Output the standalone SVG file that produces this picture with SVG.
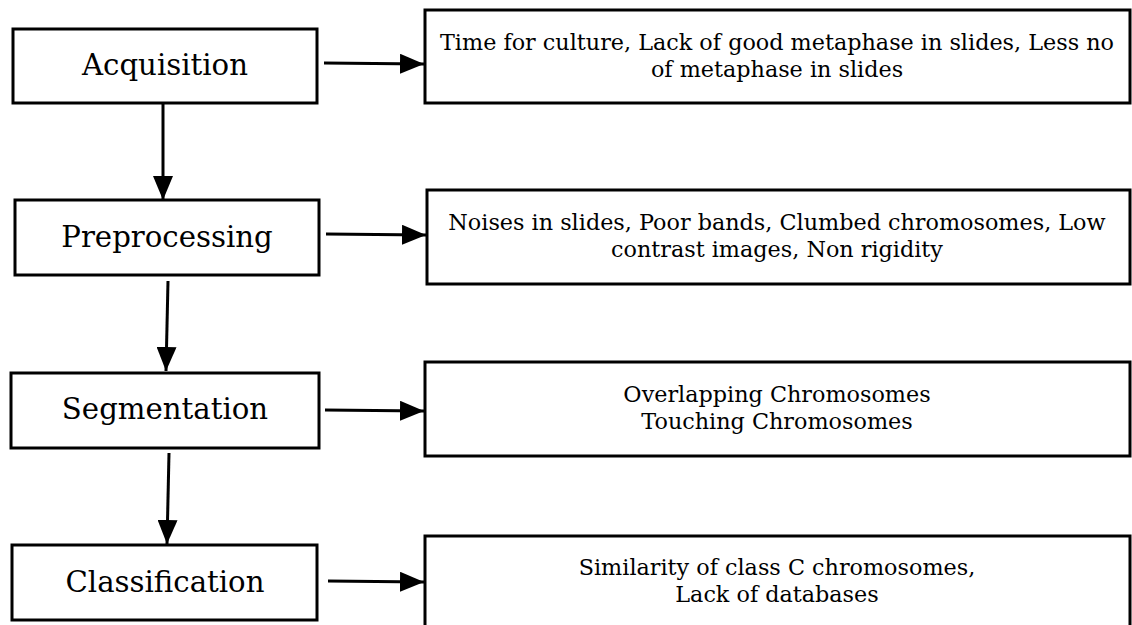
<svg xmlns="http://www.w3.org/2000/svg" width="1132" height="625" viewBox="0 0 1132 625">
<defs>
<marker id="ah" markerUnits="userSpaceOnUse" markerWidth="24" markerHeight="20" refX="24" refY="10" orient="auto">
<polygon points="0,0 24,10 0,20" fill="#000"/>
</marker>
<style>
.box{fill:#fff;stroke:#000;stroke-width:3}
.lt{font-family:"DejaVu Serif",serif;font-size:29.2px;text-anchor:middle;fill:#000}
.rt{font-family:"DejaVu Serif",serif;font-size:22.3px;text-anchor:middle;fill:#000}
.c{stroke:#000;stroke-width:3;fill:none;marker-end:url(#ah)}
</style>
</defs>
<rect width="1132" height="625" fill="#fff"/>
<g id="acquisition"><rect class="box" x="13" y="29" width="304" height="74"/><text class="lt" x="165" y="75">Acquisition</text></g>
<g id="preprocessing"><rect class="box" x="15" y="200" width="304" height="75"/><text class="lt" x="167" y="247">Preprocessing</text></g>
<g id="segmentation"><rect class="box" x="11" y="373" width="308" height="75"/><text class="lt" x="165" y="419">Segmentation</text></g>
<g id="classification"><rect class="box" x="12" y="545" width="305" height="75"/><text class="lt" x="165" y="592">Classification</text></g>
<g id="issues1"><rect class="box" x="425" y="10" width="705" height="93"/><text class="rt" x="777" y="50">Time for culture, Lack of good metaphase in slides, Less no</text><text class="rt" x="777" y="77">of metaphase in slides</text></g>
<g id="issues2"><rect class="box" x="427" y="190" width="703" height="94"/><text class="rt" x="777" y="230">Noises in slides, Poor bands, Clumbed chromosomes, Low</text><text class="rt" x="777" y="257">contrast images, Non rigidity</text></g>
<g id="issues3"><rect class="box" x="425" y="362" width="705" height="94"/><text class="rt" x="777" y="402">Overlapping Chromosomes</text><text class="rt" x="777" y="429">Touching Chromosomes</text></g>
<g id="issues4"><rect class="box" x="425" y="536" width="705" height="100"/><text class="rt" x="777" y="575">Similarity of class C chromosomes,</text><text class="rt" x="777" y="602">Lack of databases</text></g>
<g id="connectors">
<path class="c" d="M324,63 L424,64"/>
<path class="c" d="M326,234 L426,235"/>
<path class="c" d="M325,410 L424,411"/>
<path class="c" d="M328,581 L424,582"/>
<path class="c" d="M163,103 L163,200"/>
<path class="c" d="M168,281 L166,371"/>
<path class="c" d="M169,453 L167,544"/>
</g>
</svg>
